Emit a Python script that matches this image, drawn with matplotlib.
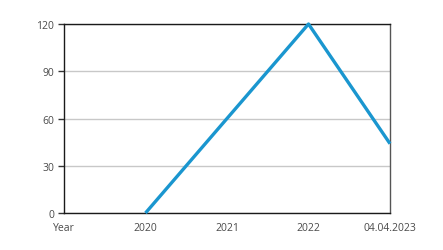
import matplotlib
matplotlib.use("Agg")
import matplotlib.pyplot as plt
import numpy as np

categories = ["Year", "2020", "2021", "2022", "04.04.2023"]
values = [np.nan, 0, 60, 120, 44]
yticks = [0, 30, 60, 90, 120]

plt.rcParams['font.family'] = ['Open Sans', 'DejaVu Sans']

fig = plt.figure(figsize=(4.43, 2.51), dpi=100)
ax = fig.add_axes([64/443, 1 - 214/251, (390-64)/443, (214-25)/251])

x = np.arange(len(categories))
ax.plot(x, values, color="#1a96cf", lw=2.4, solid_capstyle="butt", clip_on=False, zorder=3)

ax.set_xlim(0, len(categories) - 1)
ax.set_ylim(0, 120)
ax.set_yticks(yticks)
ax.set_xticks(x)
ax.set_xticklabels(categories)
ax.yaxis.grid(True, color="#c8c8c8", lw=1)
ax.set_axisbelow(True)
for s in ["left", "top", "bottom"]:
    ax.spines[s].set_color("#1a1a1a")
    ax.spines[s].set_linewidth(1)
ax.spines["right"].set_color("#555555")
ax.spines["right"].set_linewidth(1)
ax.tick_params(axis="y", length=4, width=1, color="#333333", labelsize=7.5, labelcolor="#4a4a4a", pad=3)
ax.tick_params(axis="x", length=0, labelsize=7.5, labelcolor="#4a4a4a", pad=6.5)

fig.savefig("out.png", dpi=100)
